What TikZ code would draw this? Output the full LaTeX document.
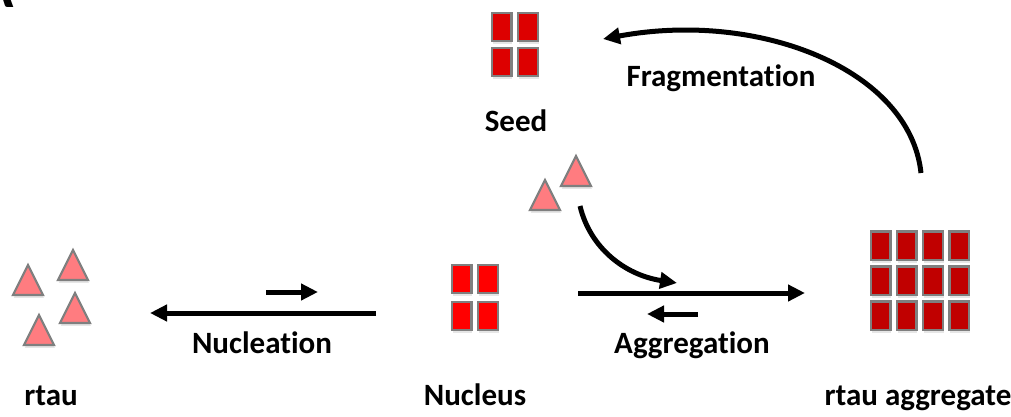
\documentclass[tikz,border=0pt]{standalone}
\usepackage{fontspec}
\setmainfont{Carlito}[Ligatures=NoCommon]
\usepackage{xcolor}
\usepackage{tikz}
\usetikzlibrary{arrows.meta, shadows}

\definecolor{edgegray}{HTML}{7F7F7F}
\definecolor{monored}{HTML}{FF7C80}
\definecolor{nucred}{HTML}{FF0000}
\definecolor{seedred}{HTML}{DD0000}
\definecolor{aggred}{HTML}{C00000}

\begin{document}
\begin{tikzpicture}[
        x=0.5pt, y=-0.5pt,
        tag/.style={
            font=\fontsize{15.5}{18}\selectfont\bfseries,
            inner sep=0pt,
            anchor=base
        },
        block/.style={
            draw=edgegray,
            rectangle,
            line width=1.2pt,
            minimum width=9.8pt,
            minimum height=14.2pt,
            inner sep=0pt,
            drop shadow={shadow xshift=0.4pt, shadow yshift=-1.4pt, opacity=0.2}
        },
        monomer/.style={
            draw=edgegray,
            fill=monored,
            line width=1.1pt,
            line join=miter,
            drop shadow={shadow xshift=0.4pt, shadow yshift=-1.4pt, opacity=0.2}
        },
        arrow/.style={
            -{Triangle[length=8.5pt,width=8pt]},
            line width=2.5pt,
            draw=black
        }
    ]
        \useasboundingbox (0,0) rectangle (1011,417);

        % panel letter, cut at the top edge
        \node (panel) [font=\fontsize{30}{30}\selectfont\bfseries, inner sep=0pt, anchor=base east] at (14,8) {A};

        % rtau monomers
        \foreach \mx/\my in {28/280, 73/265, 75/308, 39/330}
            \draw[monomer] (\mx,\my) ++(-15,15) -- ++(15,-30) -- ++(15,30) -- cycle;
        \node (rtau) [tag] at (51,405) {rtau};

        % Nucleus
        \foreach \i in {0,1}
            \foreach \j in {0,1}
                \node (nuc-\i-\j) [block, fill=nucred] at (461.5+26.5*\i, 279+37*\j) {};
        \node (nucleus) [tag] at (475,405) {Nucleus};

        % Seed
        \foreach \i in {0,1}
            \foreach \j in {0,1}
                \node (seed-\i-\j) [block, fill=seedred] at (501.5+26.5*\i, 27+35*\j) {};
        \node (seed) [tag] at (516,132) {Seed};

        % free monomers joining
        \foreach \mx/\my in {545/195, 576/171}
            \draw[monomer] (\mx,\my) ++(-15,15) -- ++(15,-30) -- ++(15,30) -- cycle;

        % rtau aggregate
        \foreach \i in {0,...,3}
            \foreach \j in {0,1,2}
                \node (agg-\i-\j) [block, fill=aggred] at (880.5+26.2*\i, 245.5+35*\j) {};
        \node (aggregate) [tag] at (918,405) {rtau aggregate};

        % Nucleation
        \coordinate (nucl-back) at (376,313);
        \coordinate (nucl-backtip) at (150,313);
        \coordinate (nucl-fwd) at (266,292);
        \coordinate (nucl-fwdtip) at (318,292);
        \draw [arrow] (nucl-back) -- (nucl-backtip);
        \draw [arrow] (nucl-fwd) -- (nucl-fwdtip);
        \node (nucleation) [tag] at (262,353) {Nucleation};

        % Aggregation
        \coordinate (aggr-fwd) at (578,293);
        \coordinate (aggr-fwdtip) at (805,293);
        \coordinate (aggr-back) at (698,314);
        \coordinate (aggr-backtip) at (647,314);
        \coordinate (join-start) at (580,206);
        \coordinate (join-tip) at (677,283);
        \draw [arrow] (aggr-fwd) -- (aggr-fwdtip);
        \draw [arrow] (aggr-back) -- (aggr-backtip);
        \draw [arrow] (join-start) .. controls (590,248) and (625,275) .. (join-tip);
        \node (aggregation) [tag] at (692,353) {Aggregation};

        % Fragmentation
        \coordinate (frag-start) at (921,173);
        \coordinate (frag-tip) at (603,39);
        \draw [arrow] (frag-start) .. controls (910,70) and (760,10) .. (frag-tip);
        \node (fragmentation) [tag] at (721,87) {Fragmentation};
    \end{tikzpicture}
\end{document}
